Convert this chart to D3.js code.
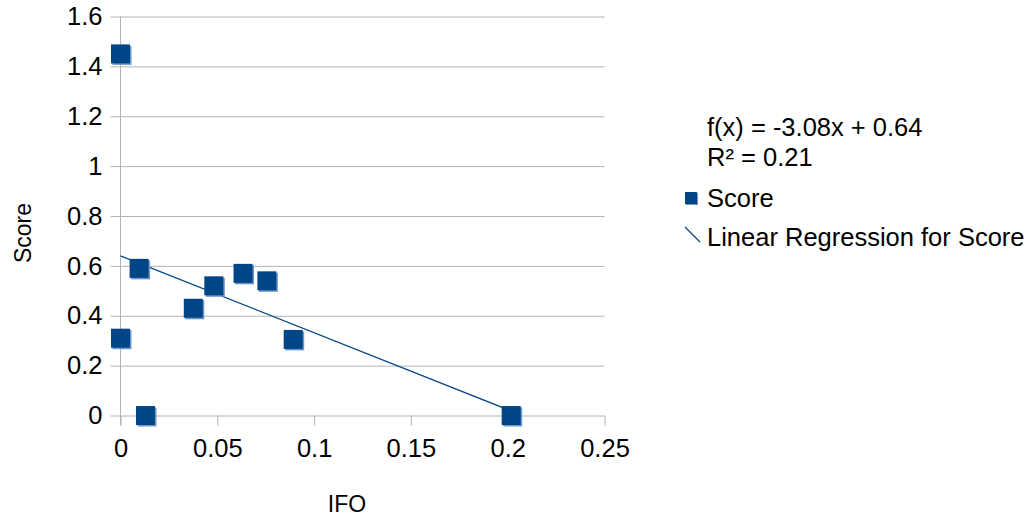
<!DOCTYPE html>
<html>
<head>
<meta charset="utf-8">
<script src="https://cdn.jsdelivr.net/npm/d3@7"></script>
<style>
  body { margin: 0; background: #fff; }
  text { font-family: "Liberation Sans", Arial, sans-serif; fill: #000; }
</style>
</head>
<body>
<div id="chart"></div>
<script>
// data
const IFO = [0, 0, 0.0096, 0.0129, 0.0376, 0.0482, 0.0633, 0.0756, 0.0892, 0.2018];
const SCORE = [1.45, 0.31, 0.59, 0, 0.43, 0.52, 0.57, 0.54, 0.305, 0];
const X_TICKS = [0, 0.05, 0.1, 0.15, 0.2, 0.25];
const X_TICK_LABELS = ['0', '0.05', '0.1', '0.15', '0.2', '0.25'];
const Y_TICKS = [0, 0.2, 0.4, 0.6, 0.8, 1, 1.2, 1.4, 1.6];
const Y_TICK_LABELS = ['0', '0.2', '0.4', '0.6', '0.8', '1', '1.2', '1.4', '1.6'];
const REG_SLOPE = -3.08;
const REG_INTERCEPT = 0.64;
const EQUATION = ['f(x) = -3.08x + 0.64', 'R² = 0.21'];
const LEGEND = ['Score', 'Linear Regression for Score'];

const WIDTH = 1034, HEIGHT = 518;
const PLOT = { left: 120.5, right: 604.5, top: 16.5, bottom: 415.5 };
const BLUE = '#004586';
const SHADOW = '#6f96c8';
const GRID = '#b3b3b3';
const FONT = 25.5;
const MARK = 19;

const svg = d3.select('#chart')
	.append('svg')
		.attr('width', WIDTH)
		.attr('height', HEIGHT);

const x = d3.scaleLinear()
	.domain([0, 0.25])
	.range([PLOT.left, PLOT.right]);

const y = d3.scaleLinear()
	.domain([0, 1.6])
	.range([PLOT.bottom, PLOT.top]);

// horizontal grid lines
svg.append('g')
	.attr('transform', `translate(${PLOT.left}, 0)`)
	.call(d3.axisLeft(y).tickValues(Y_TICKS).tickSize(-(PLOT.right - PLOT.left)).tickFormat(''))
	.call(g => g.select('.domain').remove())
	.call(g => g.selectAll('line').attr('stroke', GRID));

// y axis with labels
svg.append('g')
	.attr('transform', `translate(${PLOT.left}, 0)`)
	.call(d3.axisLeft(y).tickValues(Y_TICKS).tickSize(10).tickPadding(8)
		.tickFormat((d, i) => Y_TICK_LABELS[i]))
	.call(g => g.select('.domain').remove())
	.call(g => g.selectAll('line').attr('stroke', GRID))
	.call(g => g.selectAll('text')
		.attr('font-size', FONT)
		.attr('font-family', '"Liberation Sans", Arial, sans-serif')
		.attr('fill', '#000'));

// x axis with labels
svg.append('g')
	.attr('transform', `translate(0, ${PLOT.bottom})`)
	.call(d3.axisBottom(x).tickValues(X_TICKS).tickSize(10).tickPadding(13)
		.tickFormat((d, i) => X_TICK_LABELS[i]))
	.call(g => g.select('.domain').remove())
	.call(g => g.selectAll('line').attr('stroke', GRID))
	.call(g => g.selectAll('text')
		.attr('font-size', FONT)
		.attr('font-family', '"Liberation Sans", Arial, sans-serif')
		.attr('fill', '#000'));

// vertical axis line
svg.append('line')
	.attr('x1', PLOT.left).attr('x2', PLOT.left)
	.attr('y1', PLOT.top).attr('y2', PLOT.bottom + 10)
	.attr('stroke', GRID);

// axis titles
svg.append('text')
	.attr('x', 347)
	.attr('y', 512)
	.attr('text-anchor', 'middle')
	.attr('font-size', 23)
	.text('IFO');

svg.append('text')
	.attr('transform', 'translate(31, 233) rotate(-90)')
	.attr('text-anchor', 'middle')
	.attr('font-size', 23)
	.text('Score');

// regression line
const xMax = d3.max(IFO);
svg.append('line')
	.attr('x1', x(0))
	.attr('y1', y(REG_INTERCEPT))
	.attr('x2', x(xMax))
	.attr('y2', y(REG_INTERCEPT + REG_SLOPE * xMax))
	.attr('stroke', BLUE)
	.attr('stroke-width', 1.3);

// points
const points = IFO.map((v, i) => ({ x: v, y: SCORE[i] }));

svg.append('g').selectAll('rect')
	.data(points)
	.enter()
	.append('rect')
		.attr('x', d => x(d.x) - MARK / 2 + 1.5)
		.attr('y', d => y(d.y) - MARK / 2 + 1.5)
		.attr('width', MARK)
		.attr('height', MARK)
		.attr('fill', SHADOW);

svg.append('g').selectAll('rect')
	.data(points)
	.enter()
	.append('rect')
		.attr('x', d => x(d.x) - MARK / 2)
		.attr('y', d => y(d.y) - MARK / 2)
		.attr('width', MARK)
		.attr('height', MARK)
		.attr('fill', BLUE);

// equation and legend
svg.append('g').selectAll('text')
	.data(EQUATION)
	.enter()
	.append('text')
		.attr('x', 707)
		.attr('y', (d, i) => 136 + i * 30)
		.attr('font-size', FONT)
		.text(d => d);

const legend = svg.append('g');
legend.append('rect')
	.attr('x', 686).attr('y', 193)
	.attr('width', 12).attr('height', 12)
	.attr('fill', SHADOW);
legend.append('rect')
	.attr('x', 685).attr('y', 192)
	.attr('width', 12).attr('height', 12)
	.attr('fill', BLUE);
legend.append('line')
	.attr('x1', 685).attr('y1', 227)
	.attr('x2', 700).attr('y2', 242)
	.attr('stroke', BLUE)
	.attr('stroke-width', 1.2);

legend.selectAll('text')
	.data(LEGEND)
	.enter()
	.append('text')
		.attr('x', 707)
		.attr('y', (d, i) => 207 + i * 39)
		.attr('font-size', FONT)
		.text(d => d);
</script>
</body>
</html>
